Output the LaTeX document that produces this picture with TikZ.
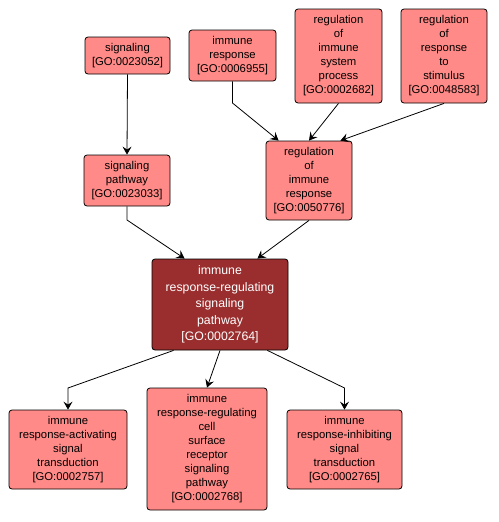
\documentclass[tikz,border=0pt]{standalone}
\usepackage{fontspec}
\setmainfont{Liberation Sans}
\usetikzlibrary{arrows.meta}
\definecolor{gofill}{HTML}{FF8A87}
\definecolor{godark}{HTML}{9A2E2E}
\tikzset{
  goterm/.style={draw=black, line width=0.8pt, fill=gofill, rounded corners=3pt, align=center, inner sep=0pt, font=\fontsize{11.3}{14}\selectfont},
  gomain/.style={goterm, fill=godark, text=white, font=\fontsize{12.3}{16.4}\selectfont},
  golink/.style={draw=black, line width=0.8pt, -{Stealth[length=8pt,width=9pt,inset=3pt]}}
}
\begin{document}
\begin{tikzpicture}[x=1pt,y=-1pt]
\useasboundingbox[fill=white] (0,0) rectangle (498,522);
\node[goterm, minimum width=85pt, minimum height=37pt] (sig) at (127.5,55.5) {signaling\\{[GO:0023052]}};
\node[goterm, minimum width=87pt, minimum height=51pt] (ir) at (232.5,55.5) {immune\\response\\{[GO:0006955]}};
\node[goterm, minimum width=87pt, minimum height=94pt] (rsp) at (338.5,56) {regulation\\of\\immune\\system\\process\\{[GO:0002682]}};
\node[goterm, minimum width=86pt, minimum height=94pt] (rrs) at (444,56) {regulation\\of\\response\\to\\stimulus\\{[GO:0048583]}};
\node[goterm, minimum width=86pt, minimum height=51pt] (sp) at (127,180.5) {signaling\\pathway\\{[GO:0023033]}};
\node[goterm, minimum width=86pt, minimum height=79pt] (rir) at (309,180.5) {regulation\\of\\immune\\response\\{[GO:0050776]}};
\node[gomain, minimum width=136pt, minimum height=91pt] (cen) at (220,304.5) {immune\\response-regulating\\signaling\\pathway\\{[GO:0002764]}};
\node[goterm, minimum width=118pt, minimum height=79pt] (act) at (68,449.5) {immune\\response-activating\\signal\\transduction\\{[GO:0002757]}};
\node[goterm, minimum width=120pt, minimum height=122pt] (cs) at (207,449) {immune\\response-regulating\\cell\\surface\\receptor\\signaling\\pathway\\{[GO:0002768]}};
\node[goterm, minimum width=115pt, minimum height=79pt] (inh) at (344.5,449.5) {immune\\response-inhibiting\\signal\\transduction\\{[GO:0002765]}};
\coordinate (k1) at (232.5,103);
\coordinate (k2) at (127,220);
\coordinate (k3) at (68,388);
\coordinate (k4) at (344.5,388);
\draw[golink] (sig.south) -- (sp.north);
\draw[golink] (ir.south) -- (k1) -- ([xshift=13pt]rir.north west);
\draw[golink] (rsp.south) -- (rir.north);
\draw[golink] (rrs.south) -- ([xshift=-12pt]rir.north east);
\draw[golink] (sp.south) -- (k2) -- ([xshift=33pt]cen.north west);
\draw[golink] (rir.south) -- ([xshift=-31pt]cen.north east);
\draw[golink] ([xshift=22pt]cen.south west) -- (k3) -- (act.north);
\draw[golink] (cen.south) -- (cs.north);
\draw[golink] ([xshift=-21pt]cen.south east) -- (k4) -- (inh.north);
\end{tikzpicture}
\end{document}
